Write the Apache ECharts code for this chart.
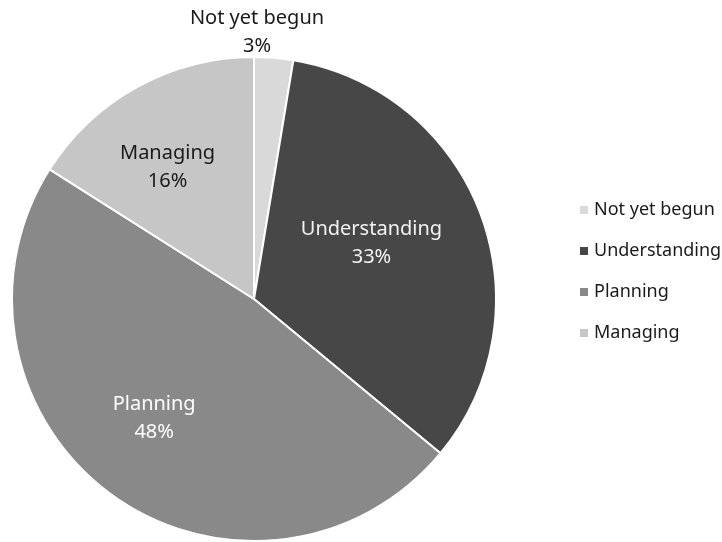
<!DOCTYPE html>
<html>
<head>
<meta charset="utf-8">
<script src="https://cdn.jsdelivr.net/npm/echarts@6/dist/echarts.min.js"></script>
<style>
  html, body { margin: 0; padding: 0; background: #fff; }
  #chart { width: 722px; height: 542px; }
</style>
</head>
<body>
<div id="chart"></div>
<script>
const stages = ['Not yet begun', 'Understanding', 'Planning', 'Managing']
const shares = [2.6, 33.4, 48.0, 16.0]
const sliceColors = ['#d9d9d9', '#474747', '#898989', '#c6c6c6']
const labelColors = ['#1a1a1a', '#f2f2f2', '#ffffff', '#1a1a1a']

const center = [254, 299]
const radius = 242
// how far out (relative to the default half-radius) each inside label sits, plus a small nudge
const labelPush = [1, 1.02, 1.26, 1.28]
const labelNudge = [[0, 0], [-1, -11], [-8, -7], [-10, 7]]

const myChart = echarts.init(document.getElementById('chart'))
const option = {
  animation: false,
  legend: {
    orient: 'vertical',
    left: 573,
    top: 195,
    icon: 'rect',
    itemWidth: 10,
    itemHeight: 10,
    itemGap: 21,
    textStyle: {
      fontFamily: 'Noto Sans',
      fontSize: 18,
      lineHeight: 20,
      color: '#1a1a1a'
    },
    data: stages
  },
  series: [
    {
      type: 'pie',
      center: center,
      radius: radius,
      startAngle: 90,
      clockwise: true,
      avoidLabelOverlap: false,
      emphasis: { disabled: true },
      itemStyle: {
        borderColor: '#fff',
        borderWidth: 2
      },
      label: {
        position: 'inside',
        fontFamily: 'Noto Sans',
        fontSize: 20,
        lineHeight: 28,
        formatter: p => p.name + '\n' + Math.round(p.value) + '%'
      },
      labelLine: { show: false },
      labelLayout: function (p) {
        const r = p.labelRect
        const lx = r.x + r.width / 2
        const ly = r.y + r.height / 2
        if (p.dataIndex === 0) {
          return { x: center[0] + 3, y: center[1] - radius + 3, align: 'center', verticalAlign: 'bottom' }
        }
        const k = labelPush[p.dataIndex]
        const n = labelNudge[p.dataIndex]
        return {
          x: center[0] + (lx - center[0]) * k + n[0],
          y: center[1] + (ly - center[1]) * k + n[1],
          align: 'center',
          verticalAlign: 'middle'
        }
      },
      data: stages.map((name, i) => ({
        name: name,
        value: shares[i],
        itemStyle: { color: sliceColors[i] },
        label: { color: labelColors[i] }
      }))
    }
  ]
}
myChart.setOption(option)
</script>
</body>
</html>
